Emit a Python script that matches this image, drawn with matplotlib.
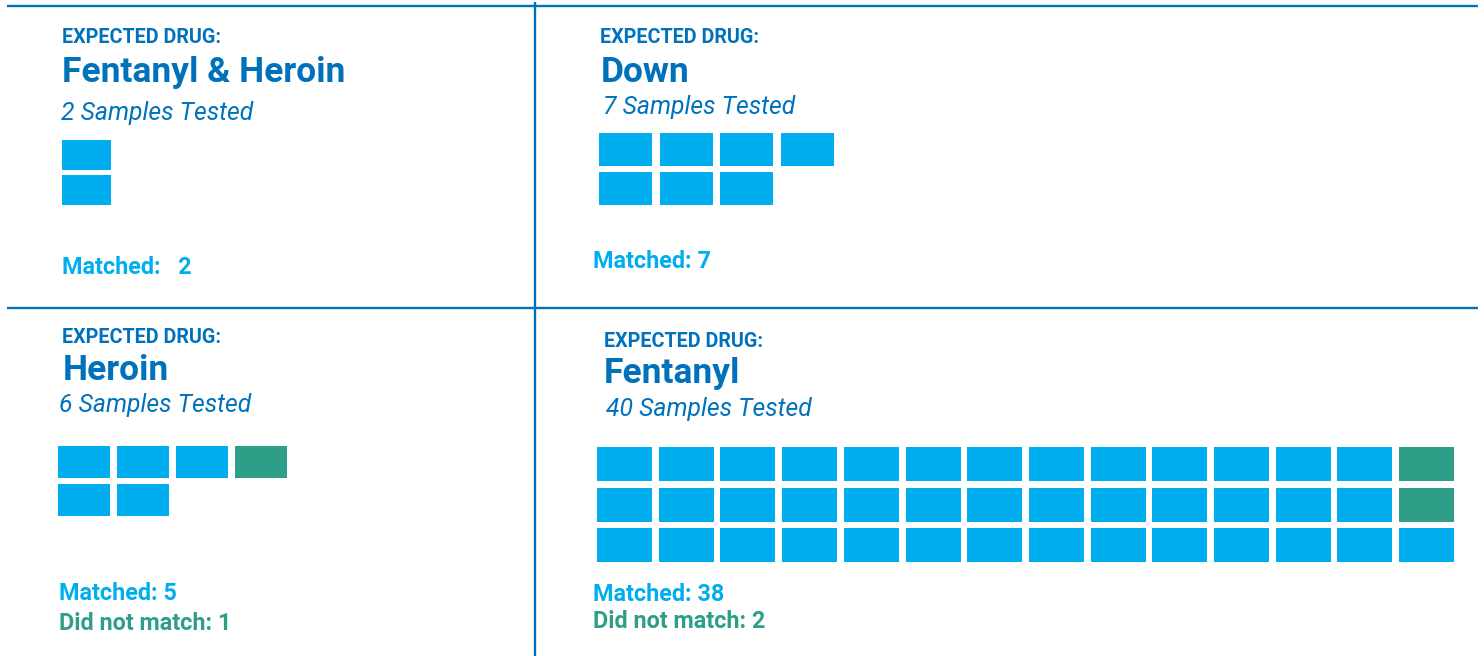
import matplotlib
matplotlib.use("Agg")
import matplotlib.pyplot as plt

# ---- data ----
drugs = ["Fentanyl & Heroin", "Down", "Heroin", "Fentanyl"]
samples_tested = [2, 7, 6, 40]
matched = [2, 7, 5, 38]
not_matched = [0, 0, 1, 2]
# sample cells as drawn, row by row (M = matched, N = did not match)
cells_fent_heroin = ["M", "M"]
cells_down = ["MMMM", "MMM"]
cells_heroin = ["MMMN", "MM"]
cells_fentanyl = ["MMMMMMMMMMMMMN", "MMMMMMMMMMMMMN", "MMMMMMMMMMMMMM"]
cells = [cells_fent_heroin, cells_down, cells_heroin, cells_fentanyl]
matched_labels = ["Matched:   2", "Matched: 7", "Matched: 5", "Matched: 38"]
nomatch_labels = [None, None, "Did not match: 1", "Did not match: 2"]

# ---- style ----
DARK = "#0072BC"
CYAN = "#00AEEF"
TEAL = "#2E9E88"
FONT = "Roboto"

W, H = 1484, 656
fig = plt.figure(figsize=(W / 100, H / 100), dpi=100)
ax = fig.add_axes([0, 0, 1, 1])
ax.set_xlim(0, W)
ax.set_ylim(H, 0)
ax.axis("off")

# frame lines
lw = 1.7
ax.plot([7, 1478], [6, 6], color=DARK, lw=lw, solid_capstyle="butt")
ax.plot([7, 1478], [308, 308], color=DARK, lw=lw, solid_capstyle="butt")
ax.plot([535, 535], [2, 656], color=DARK, lw=lw, solid_capstyle="butt")

layout = [
    dict(tx=62.5, sx=61, mx=62.5, yl=43, yt=82, ys=120, ym=274, yn=None,
         gx=62, gy=140, cw=49, ch=30, dx=49, dy=35),
    dict(tx=600.5, sx=603, mx=593, yl=43, yt=82, ys=114, ym=268, yn=None,
         gx=599, gy=133, cw=53, ch=33, dx=60.5, dy=39),
    dict(tx=62.5, sx=59, mx=59, yl=343, yt=380, ys=412, ym=600, yn=630,
         gx=58, gy=446, cw=52, ch=32, dx=59, dy=38),
    dict(tx=604, sx=606, mx=593, yl=347, yt=383, ys=416, ym=601, yn=628,
         gx=597, gy=447, cw=55, ch=34, dx=61.7, dy=40.5),
]

for i, L in enumerate(layout):
    ax.text(L["tx"], L["yl"], "EXPECTED DRUG:", color=DARK, fontsize=14.2,
            fontweight="bold", family=FONT, va="baseline", ha="left")
    ax.text(L["tx"], L["yt"], drugs[i], color=DARK, fontsize=25.5,
            fontweight="bold", family=FONT, va="baseline", ha="left")
    ax.text(L["sx"], L["ys"], f"{samples_tested[i]} Samples Tested", color=DARK,
            fontsize=17.8, style="italic", family=FONT, va="baseline", ha="left")
    ax.text(L["mx"], L["ym"], matched_labels[i], color=CYAN, fontsize=16.8,
            fontweight="bold", family=FONT, va="baseline", ha="left")
    if nomatch_labels[i]:
        ax.text(L["mx"], L["yn"], nomatch_labels[i], color=TEAL, fontsize=16.8,
                fontweight="bold", family=FONT, va="baseline", ha="left")
    for r, row in enumerate(cells[i]):
        for c, s in enumerate(row):
            ax.bar(L["gx"] + c * L["dx"], L["ch"], width=L["cw"],
                   bottom=L["gy"] + r * L["dy"], align="edge",
                   color=CYAN if s == "M" else TEAL, linewidth=0)

fig.savefig("out.png", dpi=100)
